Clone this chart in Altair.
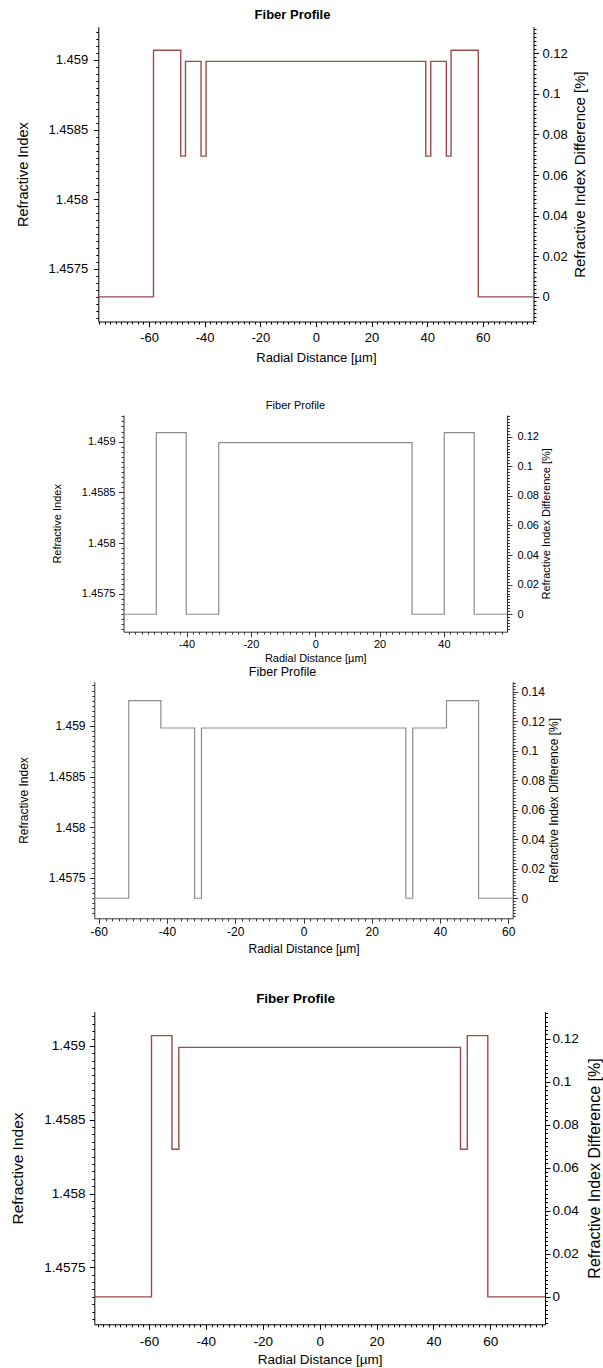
import math
import altair as alt
import pandas as pd

# ---------------- data ----------------
N_CLAD = 1.4573  # cladding refractive index (0 % on the right axis)

# panel 1 : double trench profile
p1_x = [-78.25, -58.4, -48.6, -46.9, -41.3, -39.5, 39.5, 41.3, 46.9, 48.6, 58.4, 78.25]
p1_n = [1.4573, 1.45907, 1.45831, 1.45899, 1.45831, 1.45899, 1.45831, 1.45899, 1.45831, 1.45907, 1.4573, 1.4573]
# panel 2 : ring profile
p2_x = [-59.6, -49.4, -40.1, -30.0, 30.1, 40.1, 49.4, 59.6]
p2_n = [1.4573, 1.45909, 1.4573, 1.45899, 1.4573, 1.45909, 1.4573, 1.4573]
# panel 3 : ring + shoulder + narrow gap
p3_x = [-61.3, -51.2, -41.8, -31.9, -29.9, 30.0, 32.0, 41.9, 51.3, 61.3]
p3_n = [1.4573, 1.45925, 1.45898, 1.4573, 1.45898, 1.4573, 1.45898, 1.45925, 1.4573, 1.4573]
# panel 4 : single trench profile
p4_x = [-79.2, -59.1, -51.9, -49.5, 49.5, 51.9, 59.1, 79.2]
p4_n = [1.4573, 1.45907, 1.4583, 1.45899, 1.4583, 1.45907, 1.4573, 1.4573]

x_ticks_wide = [-60, -40, -20, 0, 20, 40, 60]
x_ticks_narrow = [-40, -20, 0, 20, 40]
n_ticks = [1.4575, 1.458, 1.4585, 1.459]
d_ticks = [0, 0.02, 0.04, 0.06, 0.08, 0.1, 0.12]
d_ticks_p3 = [0, 0.02, 0.04, 0.06, 0.08, 0.1, 0.12, 0.14]

TITLE = "Fiber Profile"
X_TITLE = "Radial Distance [µm]"
Y_TITLE = "Refractive Index"
Y2_TITLE = "Refractive Index Difference [%]"

# ---------------- layout / style ----------------
W, H = 603, 1368
REG = "Liberation Sans, Arial, sans-serif"

panels = [
    dict(xs=p1_x, ns=p1_n, xt=x_ticks_wide, dt=d_ticks,
         L=98.3, R=533.5, T=26.7, B=321.5, xdom=[-78.25, 78.25], ydom=[1.457123, 1.459239],
         color="#9e4b4b", sw=1.4, axc="#000000",
         lsize=13, xtsize=13, ytsize=14.5, y2tsize=15, tsize=13, tweight="bold",
         xlp=10.8, xty=35.5, ylp=5.6, ytx=-75.3, rlp=3.5, rtx=45.5, ttx=292, tty=-12.7),
    dict(xs=p2_x, ns=p2_n, xt=x_ticks_narrow, dt=d_ticks,
         L=123.5, R=507, T=415, B=631.7, xdom=[-59.6, 59.6], ydom=[1.457128, 1.459263],
         color="#8c8c8c", sw=1.2, axc="#333333",
         lsize=11, xtsize=11, ytsize=11, y2tsize=11, tsize=11, tweight="normal",
         xlp=7.3, xty=26.3, ylp=3.5, ytx=-65.8, rlp=5, rtx=39, ttx=295, tty=-9.3),
    dict(xs=p3_x, ns=p3_n, xt=x_ticks_wide, dt=d_ticks_p3,
         L=94.3, R=512.7, T=681.7, B=918.3, xdom=[-61.3, 61.3], ydom=[1.457102, 1.459437],
         color="#8c8c8c", sw=1.2, axc="#333333",
         lsize=12, xtsize=12, ytsize=12, y2tsize=12, tsize=12.5, tweight="normal",
         xlp=8.4, xty=30, ylp=4.3, ytx=-71.3, rlp=3.3, rtx=41.1, ttx=282, tty=-10),
    dict(xs=p4_x, ns=p4_n, xt=x_ticks_wide, dt=d_ticks,
         L=94.3, R=545, T=1011.7, B=1324.3, xdom=[-79.2, 79.2], ydom=[1.457114, 1.459232],
         color="#9e4b4b", sw=1.4, axc="#000000",
         lsize=13.5, xtsize=13.5, ytsize=15.5, y2tsize=16, tsize=13.5, tweight="bold",
         xlp=11.7, xty=35, ylp=4.3, ytx=-77, rlp=2, rtx=49, ttx=295, tty=-13.4),
]


def delta(n):
    return (n - N_CLAD) / N_CLAD * 100


def grid(lo, hi, step):
    k0 = math.ceil(lo / step - 1e-9)
    k1 = math.floor(hi / step + 1e-9)
    return [round(k * step, 7) for k in range(k0, k1 + 1)]


LABEL_EXPR = "'' + datum.value"
layers = []
for p in panels:
    df = pd.DataFrame({"x": p["xs"], "n": p["ns"]})
    L, R, T, B = p["L"], p["R"], p["T"], p["B"]
    ddom = [delta(p["ydom"][0]), delta(p["ydom"][1])]
    xs = alt.Scale(domain=p["xdom"], range=[L, R], nice=False, zero=False)
    ys = alt.Scale(domain=p["ydom"], range=[B, T], nice=False, zero=False)
    ds = alt.Scale(domain=ddom, range=[B, T], nice=False, zero=False)
    axc = p["axc"]
    common = dict(grid=False, domainColor=axc, tickColor=axc, labelColor="#000000",
                  titleColor="#000000", labelFlush=False, labelOverlap=False,
                  domainWidth=1, tickWidth=1)
    minor = dict(grid=False, labels=False, domain=False, tickColor=axc, tickWidth=1,
                 tickSize=2.5, title="")

    base = alt.Chart(df).transform_calculate(
        d=f"(datum.n - {N_CLAD}) / {N_CLAD} * 100")

    # visible profile + main bottom/left axes
    a = base.mark_line(interpolate="step-after", color=p["color"], strokeWidth=p["sw"]).encode(
        x=alt.X("x:Q", scale=xs, axis=alt.Axis(
            orient="bottom", offset=B - H, values=p["xt"], tickSize=5,
            labelPadding=p["xlp"], labelBaseline="middle", labelExpr=LABEL_EXPR,
            labelFont=REG, labelFontSize=p["lsize"],
            title=X_TITLE, titleX=(L + R) / 2, titleY=p["xty"], titleBaseline="middle",
            titleAlign="center", titleFont=REG, titleFontSize=p["xtsize"],
            titleFontWeight="normal", **common)),
        y=alt.Y("n:Q", scale=ys, axis=alt.Axis(
            orient="left", offset=-L, values=n_ticks, tickSize=5,
            labelPadding=p["ylp"], labelAlign="right", labelBaseline="middle",
            labelExpr=LABEL_EXPR, labelFont=REG, labelFontSize=p["lsize"],
            title=Y_TITLE, titleX=p["ytx"], titleBaseline="middle", titleAngle=270,
            titleFont=REG, titleFontSize=p["ytsize"], titleFontWeight="normal", **common)),
    )
    # x minor ticks + right axis
    b = base.mark_line(interpolate="step-after", opacity=0).encode(
        x=alt.X("x:Q", scale=xs, axis=alt.Axis(
            orient="bottom", offset=B - H, values=grid(p["xdom"][0], p["xdom"][1], 2), **minor)),
        y=alt.Y("d:Q", scale=ds, axis=alt.Axis(
            orient="right", offset=R - W, values=p["dt"], tickSize=5,
            labelPadding=p["rlp"], labelAlign="left", labelBaseline="middle",
            labelExpr=LABEL_EXPR, labelFont=REG, labelFontSize=p["lsize"],
            title=Y2_TITLE, titleX=p["rtx"], titleBaseline="middle", titleAngle=270,
            titleFont=REG, titleFontSize=p["y2tsize"], titleFontWeight="normal", **common)),
    )
    # panel title (top axis) + left minor ticks
    c = base.mark_line(interpolate="step-after", opacity=0).encode(
        x=alt.X("x:Q", scale=xs, axis=alt.Axis(
            orient="top", offset=-T, ticks=False, labels=False, domain=False, grid=False,
            title=TITLE, titleX=p["ttx"], titleY=p["tty"], titleBaseline="middle",
            titleAlign="center", titleFont=REG, titleFontSize=p["tsize"],
            titleFontWeight=p["tweight"], titleColor="#000000")),
        y=alt.Y("n:Q", scale=ys, axis=alt.Axis(
            orient="left", offset=-L, values=grid(p["ydom"][0], p["ydom"][1], 0.00005), **minor)),
    )
    # right minor ticks
    e = base.mark_line(interpolate="step-after", opacity=0).encode(
        x=alt.X("x:Q", scale=xs, axis=None),
        y=alt.Y("d:Q", scale=ds, axis=alt.Axis(
            orient="right", offset=R - W, values=grid(ddom[0], ddom[1], 0.002), **minor)),
    )
    layers += [a, b, c, e]

chart = alt.layer(*layers).resolve_scale(x="independent", y="independent").properties(
    width=W, height=H, padding=0,
    autosize=alt.AutoSizeParams(type="none"),
    background="#ffffff",
).configure_view(strokeWidth=0)

chart.save("out.html", embed_options={"renderer": "svg", "actions": False})
